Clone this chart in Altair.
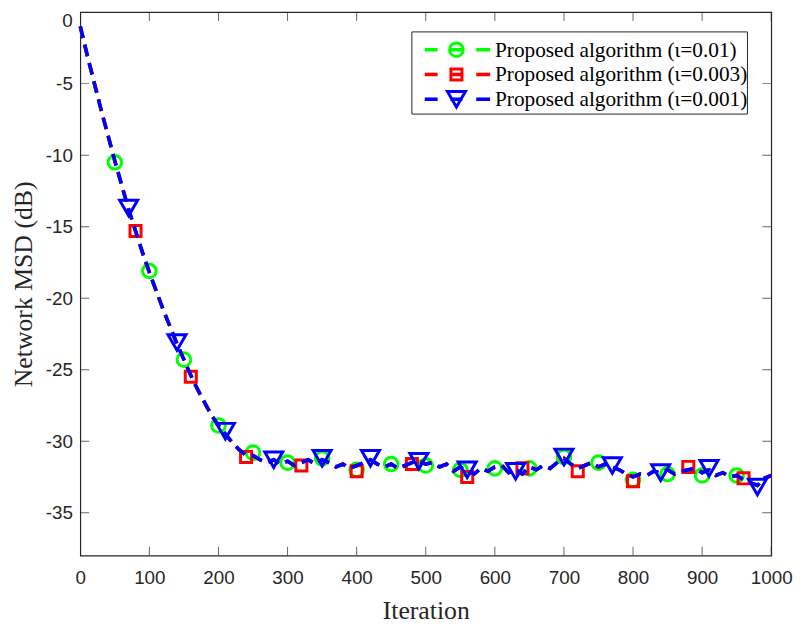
import altair as alt
import pandas as pd

# ---------------- data ----------------
iterations = list(range(0, 1001, 10))
msd_curve = [-1.0, -3.0, -4.9, -6.8, -8.6, -10.4, -12.1, -13.8, -15.3, -16.8,
             -18.2, -19.5, -20.8, -22.0, -23.2, -24.3, -25.4, -26.4, -27.3, -28.2,
             -28.9, -29.5, -30.1, -30.6, -31.0,
             -31.0, -31.3, -31.5, -31.3, -31.6, -31.4, -31.7, -31.5, -31.3, -31.6,
             -31.3, -31.5, -31.8, -31.6, -31.9, -31.7, -31.5, -31.3, -31.6, -31.8,
             -31.6, -31.9, -31.7, -31.5, -31.4, -31.6, -31.5, -31.8, -31.6, -32.1,
             -31.8, -32.1, -32.3, -31.9, -32.1, -31.8, -31.7, -32.2, -32.0, -32.3,
             -31.8, -32.0, -31.7, -31.9, -31.5, -31.2, -31.6, -31.9, -31.7, -31.5,
             -31.8, -31.6, -31.8, -32.0, -32.3, -32.5, -32.3, -32.4, -32.1, -32.2,
             -32.0, -32.3, -32.1, -32.0, -31.9, -32.2, -32.0, -32.4, -32.2, -32.5,
             -32.4, -32.7, -32.9, -33.1, -32.6, -32.4]

green_x = list(range(50, 1000, 50))
green_y = [-10.5, -18.1, -24.3, -28.9, -30.8, -31.5, -31.2, -32.0, -31.6, -31.7,
           -32.0, -31.9, -31.9, -31.1, -31.5, -32.7, -32.3, -32.4, -32.4]
red_x = list(range(80, 1000, 80))
red_y = [-15.3, -25.5, -31.1, -31.7, -32.1, -31.6, -32.5, -31.9, -32.1, -32.8,
         -31.8, -32.6]
blue_x = list(range(70, 1000, 70))
blue_y = [-13.7, -23.1, -29.3, -31.3, -31.2, -31.2, -31.4, -32.0, -32.1, -31.1,
          -31.7, -32.2, -31.9, -33.2]

labels = ["Proposed algorithm (\u03b9=0.01)",
          "Proposed algorithm (\u03b9=0.003)",
          "Proposed algorithm (\u03b9=0.001)"]
colors = ["#00ff00", "#ff0000", "#0000ff"]
shapes = ["circle", "square", "triangle-down"]
marker_sizes = [190, 125, 330]

x_ticks = list(range(0, 1001, 100))
y_ticks = list(range(0, -36, -5))

# ---------------- layout ----------------
W, H = 698, 549
AXC = "#262626"
SANS = "Liberation Sans"
SERIF = "Liberation Serif"

xs = alt.Scale(domain=[0, 1000], nice=False)
ys = alt.Scale(domain=[-38, 0], nice=False)

curve_df = pd.DataFrame({"it": iterations, "msd": msd_curve})
marker_dfs = [pd.DataFrame({"it": green_x, "msd": green_y}),
              pd.DataFrame({"it": red_x, "msd": red_y}),
              pd.DataFrame({"it": blue_x, "msd": blue_y})]

x_enc = alt.X("it:Q", scale=xs,
              axis=alt.Axis(values=x_ticks, title="Iteration", grid=False,
                            domain=False, ticks=False, tickSize=0,
                            labelFont=SANS, labelFontSize=19, labelColor=AXC,
                            labelPadding=13, labelExpr="'' + datum.value",
                            labelFlush=False,
                            titleFont=SERIF, titleFontSize=26,
                            titleFontWeight="normal", titleColor=AXC,
                            titleBaseline="alphabetic", titleY=64))
y_enc = alt.Y("msd:Q", scale=ys,
              axis=alt.Axis(values=y_ticks, title="Network MSD (dB)", grid=False,
                            domain=False, ticks=False, tickSize=0,
                            labelFont=SANS, labelFontSize=19, labelColor=AXC,
                            labelPadding=8, labelExpr="'' + datum.value",
                            labelFlush=True,
                            titleFont=SERIF, titleFontSize=26,
                            titleFontWeight="normal", titleColor=AXC,
                            titleAngle=270, titleBaseline="alphabetic",
                            titleAlign="center", titleX=-49, titleY=H / 2))

layers = []
for i in range(3):
    line = alt.Chart(curve_df).mark_line(
        color=colors[i], strokeWidth=3.6, strokeDash=[12, 7], strokeCap="butt"
    ).encode(x=x_enc, y=y_enc)
    pts = alt.Chart(marker_dfs[i]).mark_point(
        shape=shapes[i], color=colors[i], filled=False, strokeWidth=3,
        size=marker_sizes[i], opacity=1
    ).encode(x=alt.X("it:Q", scale=xs), y=alt.Y("msd:Q", scale=ys))
    layers += [line, pts]

# inward tick marks on all four sides
xt_df = pd.DataFrame({"it": x_ticks})
yt_df = pd.DataFrame({"msd": y_ticks})
for yv in [0, H]:
    layers.append(alt.Chart(xt_df).mark_tick(
        color=AXC, thickness=1, size=18, clip=True
    ).encode(x=alt.X("it:Q", scale=xs), y=alt.value(yv)))
for xv in [0, W]:
    layers.append(alt.Chart(yt_df).mark_tick(
        color=AXC, thickness=1, size=18, clip=True
    ).encode(y=alt.Y("msd:Q", scale=ys), x=alt.value(xv)))

# legend
one = pd.DataFrame({"a": [0]})
layers.append(alt.Chart(one).mark_rect(
    fill="white", stroke=AXC, strokeWidth=1
).encode(x=alt.value(335), x2=alt.value(674), y=alt.value(20), y2=alt.value(103)))
row_y = [38, 63, 88]
for i in range(3):
    for (a, b) in [(348, 361), (400, 414)]:
        layers.append(alt.Chart(one).mark_rule(
            color=colors[i], strokeWidth=3.6
        ).encode(x=alt.value(a), x2=alt.value(b), y=alt.value(row_y[i])))
    layers.append(alt.Chart(one).mark_point(
        shape=shapes[i], color=colors[i], filled=False, strokeWidth=3,
        size=marker_sizes[i], opacity=1
    ).encode(x=alt.value(380), y=alt.value(row_y[i])))
    layers.append(alt.Chart(one).mark_rule(
        color=colors[i], strokeWidth=3.6
    ).encode(x=alt.value(374), x2=alt.value(386), y=alt.value(row_y[i])))
    layers.append(alt.Chart(one).mark_text(
        text=labels[i], font=SERIF, fontSize=21.5, color="black",
        align="left", baseline="middle"
    ).encode(x=alt.value(419), y=alt.value(row_y[i] + 1)))

chart = alt.layer(*layers).properties(
    width=W, height=H,
    autosize=alt.AutoSizeParams(type="none"),
    padding={"left": 73, "top": 1, "right": 22, "bottom": 70},
    background="white",
).configure_view(stroke=AXC, strokeWidth=1.2)

chart.save("out.html", embed_options={"renderer": "svg", "actions": False})
